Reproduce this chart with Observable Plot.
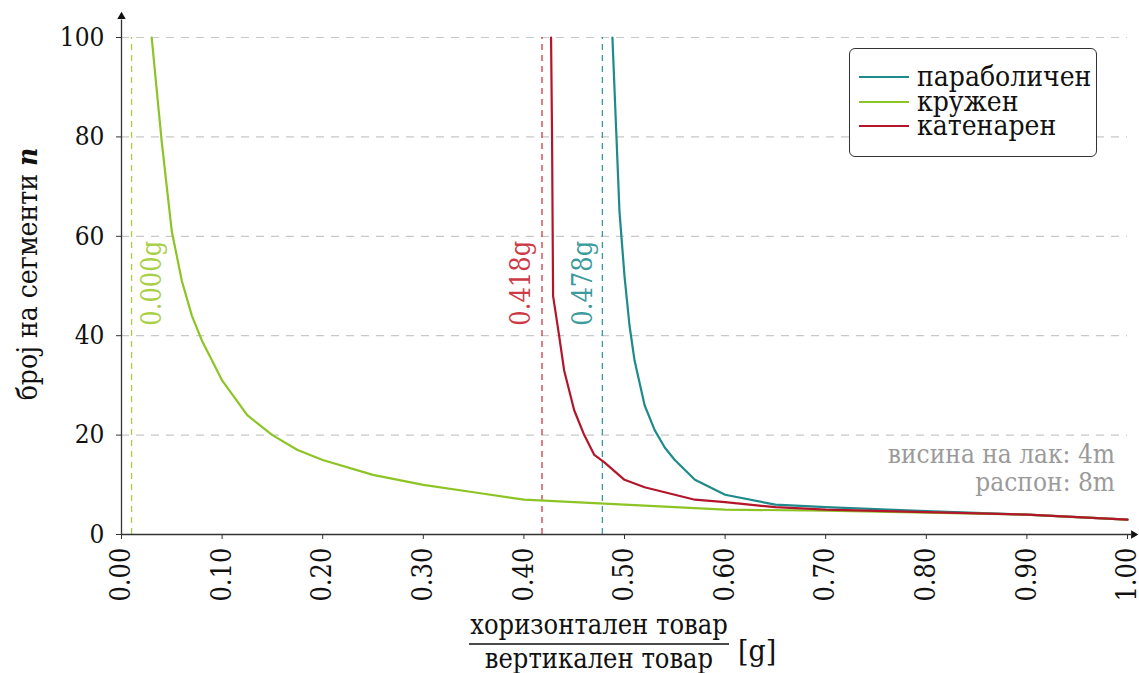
<!DOCTYPE html>
<html>
<head>
<meta charset="utf-8">
<script src="https://cdn.jsdelivr.net/npm/d3@7"></script>
<script src="https://cdn.jsdelivr.net/npm/@observablehq/plot@0.6"></script>
<style>
  html, body { margin: 0; padding: 0; background: #fff; }
  #wrap { position: relative; width: 1139px; height: 673px; overflow: hidden; }
  #legend {
    position: absolute; left: 849px; top: 48px; width: 248px; height: 109px;
    border: 1.3px solid #333; border-radius: 6px; box-sizing: border-box; background: #fff;
    font-family: "DejaVu Serif Condensed", "DejaVu Serif", serif; font-size: 28px; color: #111;
    padding: 16px 0 0 9px;
  }
  #legend .row { display: flex; align-items: center; height: 24.5px; line-height: 24.5px; }
  #legend .sw { width: 50px; height: 2px; margin-right: 8px; }
</style>
</head>
<body>
<div id="wrap"><div id="legend"></div></div>
<script>
// ---- data ----
const seriesNames = ["параболичен", "кружен", "катенарен"];
const seriesColors = ["#1f8a8c", "#8dc425", "#b3152b"];

const parabX = [0.488, 0.492, 0.495, 0.500, 0.505, 0.510, 0.520, 0.530, 0.540, 0.550, 0.570, 0.600, 0.650, 0.700, 0.800, 0.900, 1.000];
const parabN = [100, 80, 65, 52, 42, 35, 26, 21, 17.5, 15, 11, 8, 6, 5.5, 4.7, 4, 3];

const circX = [0.030, 0.040, 0.050, 0.060, 0.070, 0.080, 0.090, 0.100, 0.125, 0.150, 0.175, 0.200, 0.250, 0.300, 0.350, 0.400, 0.450, 0.500, 0.600, 0.700, 0.800, 0.900, 1.000];
const circN = [100, 79, 61, 51, 44, 39, 35, 31, 24, 20, 17, 15, 12, 10, 8.5, 7, 6.5, 6, 5, 4.8, 4.4, 4, 3];

const catX = [0.427, 0.428, 0.429, 0.435, 0.440, 0.450, 0.460, 0.470, 0.480, 0.500, 0.520, 0.550, 0.570, 0.600, 0.650, 0.700, 0.800, 0.900, 1.000];
const catN = [100, 80, 48, 40, 33, 25, 20, 16, 14.5, 11, 9.5, 8, 7, 6.5, 5.5, 5, 4.5, 4, 3];

const limitX = [0.01, 0.418, 0.478];
const limitLabels = ["0.000g", "0.418g", "0.478g"];
const limitColors = ["#a8cf45", "#cc3a45", "#3a9a9c"];
const limitOffsets = [21, -21, -19];
const limitLabelN = 42;

const xTicks = [0, 0.1, 0.2, 0.3, 0.4, 0.5, 0.6, 0.7, 0.8, 0.9, 1.0];
const yTicks = [0, 20, 40, 60, 80, 100];

const yLabel = "број на сегменти ";
const yLabelVar = "n";
const xLabelNum = "хоризонтален товар";
const xLabelDen = "вертикален товар";
const xLabelUnit = "[g]";
const noteLines = ["висина на лак: 4m", "распон: 8m"];

// ---- build tables ----
const rows = [];
[[parabX, parabN], [circX, circN], [catX, catN]].forEach(([xs, ns], i) => {
  xs.forEach((x, j) => rows.push({series: seriesNames[i], x, n: ns[j]}));
});
const limits = limitX.map((x, i) => ({x, label: limitLabels[i], color: limitColors[i], dx: limitOffsets[i]}));

const FONT = `"DejaVu Serif Condensed", "DejaVu Serif", serif`;

function labels(index, scales, values, dims) {
  const svgNS = "http://www.w3.org/2000/svg";
  const g = document.createElementNS(svgNS, "g");
  const sel = d3.select(g).attr("font-family", FONT).attr("fill", "#111");
  // y label
  const yt = sel.append("text")
    .attr("transform", `translate(37,274) rotate(-90)`)
    .attr("text-anchor", "middle").attr("font-size", 28);
  yt.append("tspan").text(yLabel);
  yt.append("tspan").attr("font-weight", "bold").attr("font-style", "italic").text(yLabelVar);
  // x label fraction
  const cx = 599;
  sel.append("text").attr("x", cx).attr("y", 634).attr("text-anchor", "middle").attr("font-size", 27).text(xLabelNum);
  sel.append("line").attr("x1", cx - 130).attr("x2", cx + 130).attr("y1", 644).attr("y2", 644).attr("stroke", "#111").attr("stroke-width", 1.4);
  sel.append("text").attr("x", cx).attr("y", 668).attr("text-anchor", "middle").attr("font-size", 27).text(xLabelDen);
  sel.append("text").attr("x", 738).attr("y", 661).attr("text-anchor", "start").attr("font-size", 30).text(xLabelUnit);
  // note
  noteLines.forEach((t, i) => {
    sel.append("text").attr("x", 1115).attr("y", 463 + i * 28).attr("text-anchor", "end")
      .attr("font-size", 26).attr("fill", "#9a9a9a").text(t);
  });
  return g;
}

const limitTextMarks = limits.map(l =>
  Plot.text([l], {x: "x", y: () => limitLabelN, text: "label", fill: "color", rotate: -90, textAnchor: "start", dx: l.dx, fontSize: 27})
);

const chart = Plot.plot({
  width: 1139,
  height: 673,
  marginLeft: 121,
  marginRight: 12,
  marginTop: 37,
  marginBottom: 139,
  style: {fontFamily: FONT, fontSize: "26px", color: "#111", background: "white"},
  x: {domain: [0, 1]},
  y: {domain: [0, 100]},
  color: {domain: seriesNames, range: seriesColors},
  marks: [
    Plot.ruleY(yTicks.filter(d => d > 0), {stroke: "#c8c8c8", strokeWidth: 1.2, strokeDasharray: "8,7"}),
    Plot.ruleX(limits, {x: "x", y1: 0, y2: 100, stroke: "color", strokeWidth: 1.3, strokeDasharray: "6,5"}),
    Plot.line(rows, {x: "x", y: "n", z: "series", stroke: "series", strokeWidth: 2.2, curve: "linear"}),
    ...limitTextMarks,
    Plot.axisY({ticks: yTicks, tickSize: 5, tickPadding: 12, fontSize: 26, label: null, stroke: "#333"}),
    Plot.axisX({ticks: xTicks, tickFormat: d3.format(".2f"), tickRotate: -90, tickSize: 5, tickPadding: 8, fontSize: 27, label: null, stroke: "#333"}),
    Plot.ruleY([0], {x1: 0, x2: 1.004, stroke: "#333", strokeWidth: 1.3}),
    Plot.ruleX([0], {y1: 0, y2: 103.5, stroke: "#333", strokeWidth: 1.3}),
    Plot.dot([{x: 1.006, y: 0, r: 90}, {x: 0, y: 104.2, r: 0}], {x: "x", y: "y", symbol: "triangle2", rotate: "r", r: 4, fill: "#111", stroke: null}),
    labels
  ]
});

document.getElementById("wrap").prepend(chart);

// legend
const leg = d3.select("#legend");
seriesNames.forEach((s, i) => {
  const r = leg.append("div").attr("class", "row");
  r.append("div").attr("class", "sw").style("background", seriesColors[i]);
  r.append("span").text(s);
});
</script>
</body>
</html>
